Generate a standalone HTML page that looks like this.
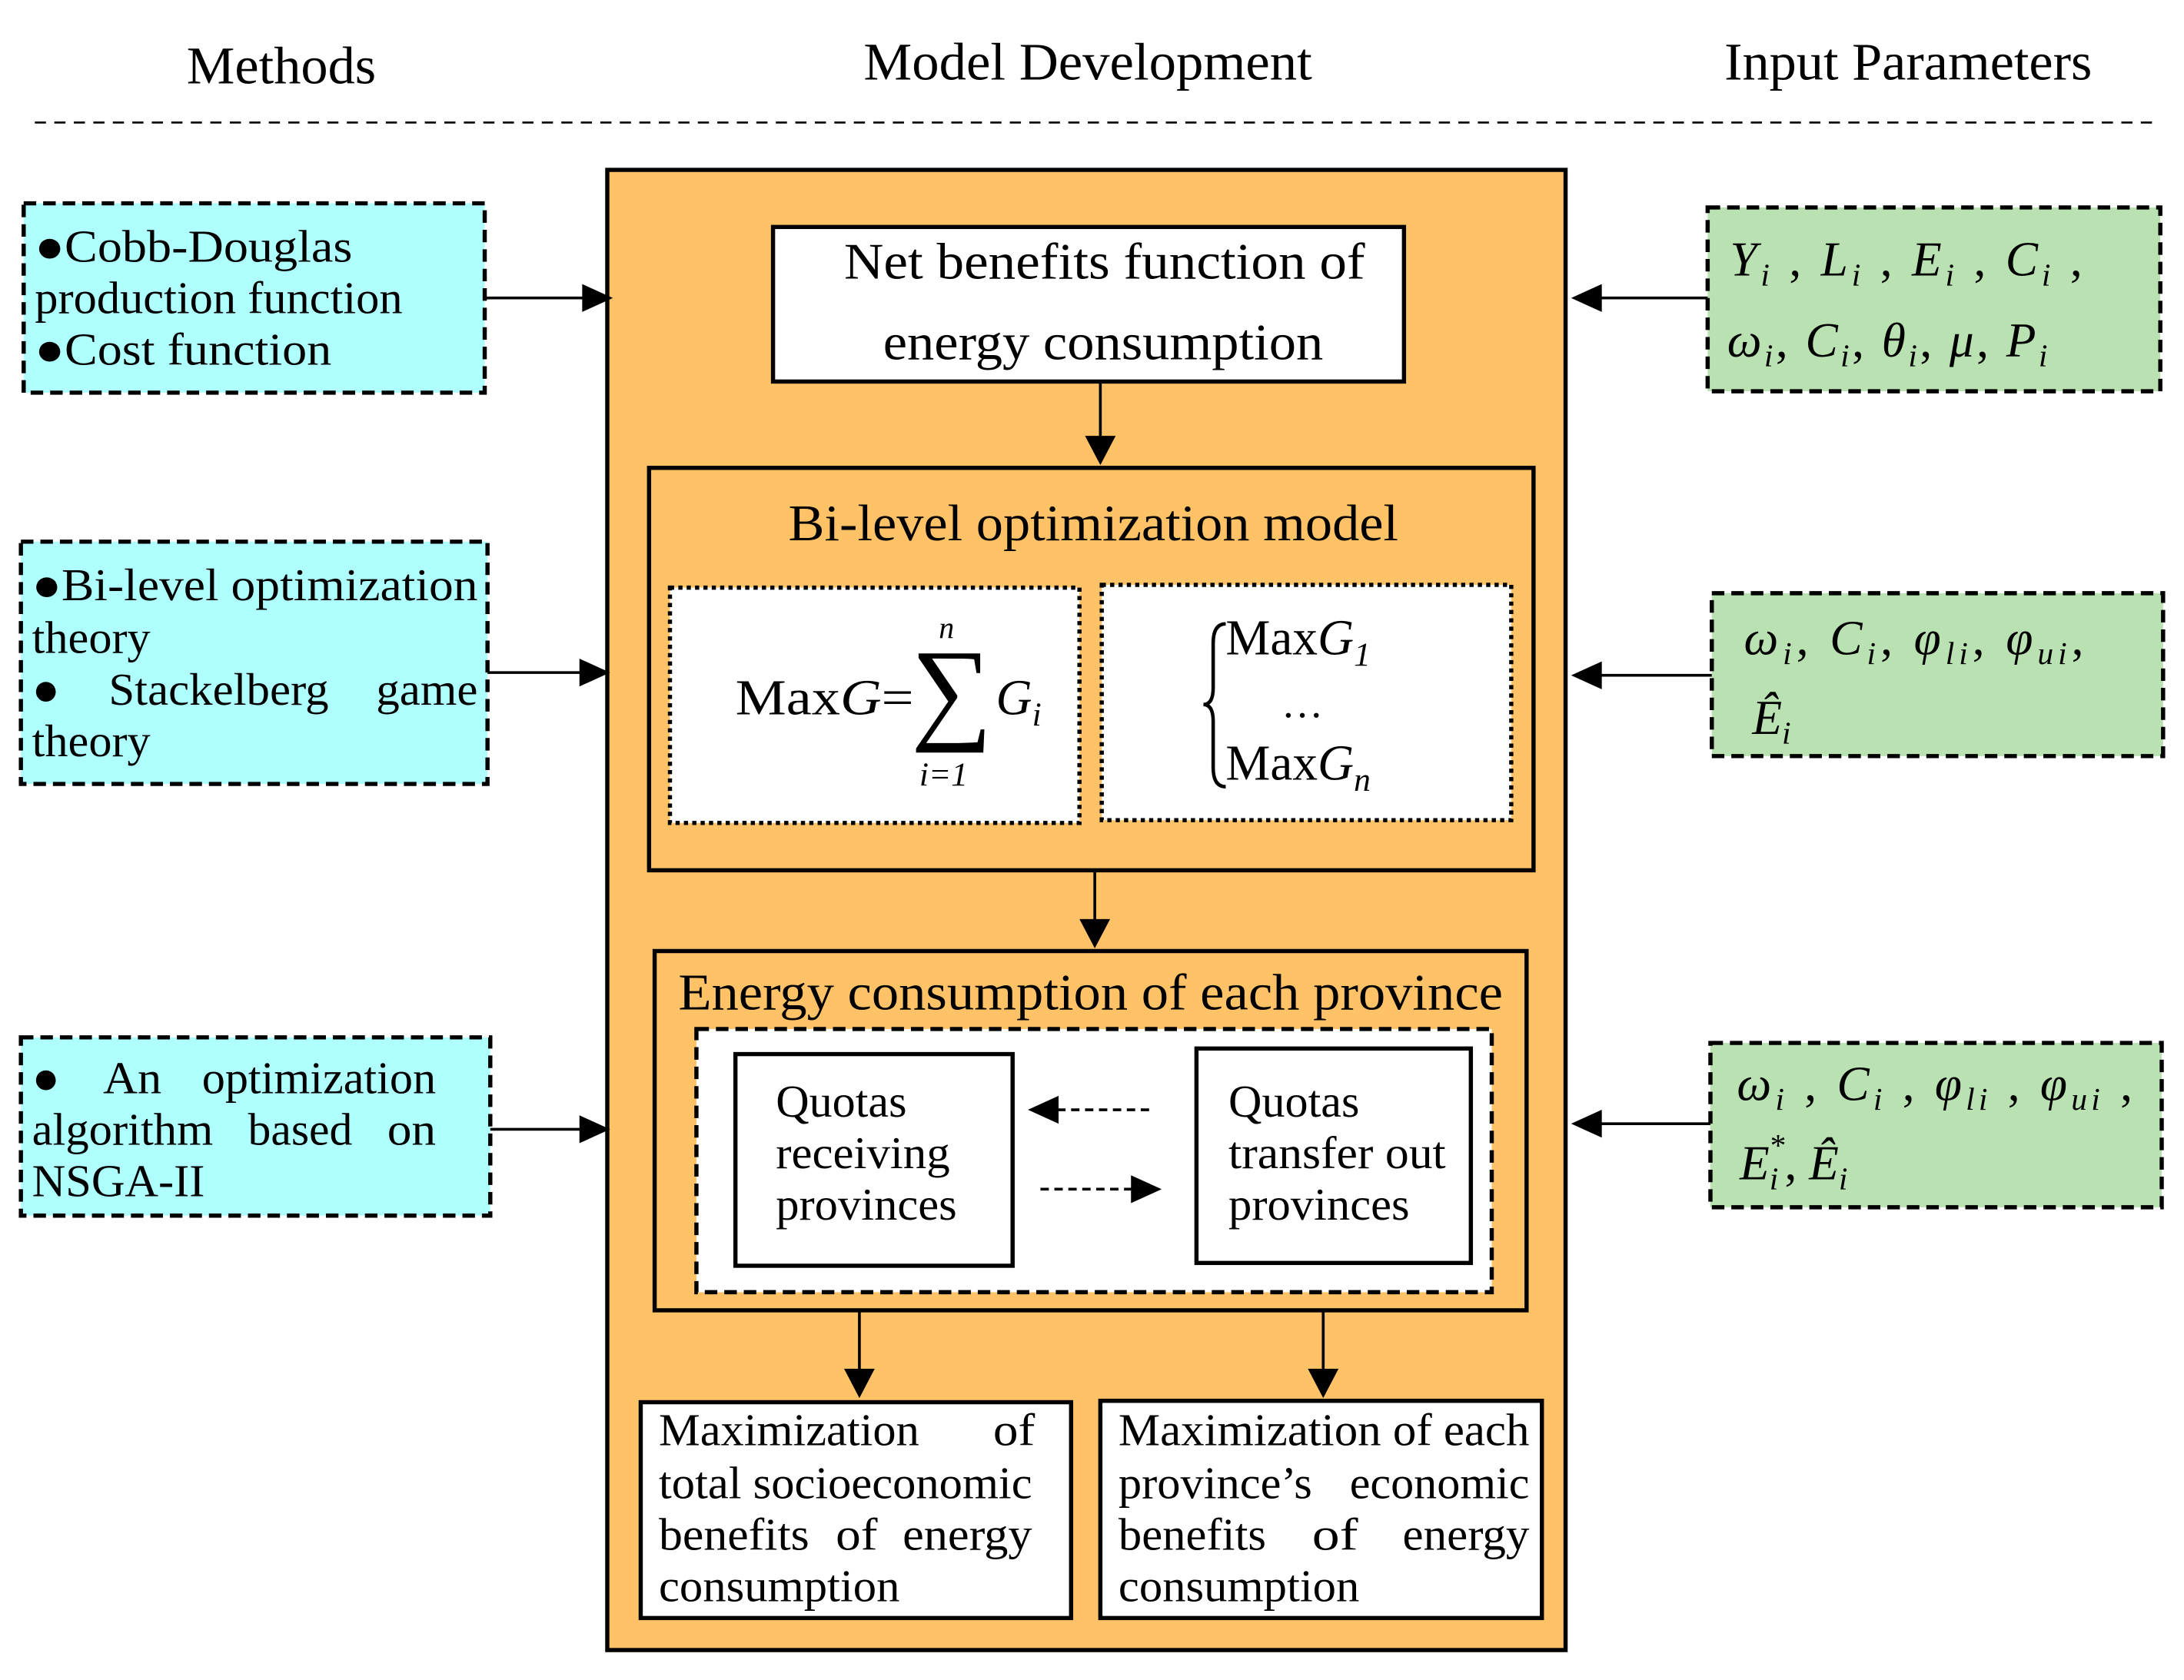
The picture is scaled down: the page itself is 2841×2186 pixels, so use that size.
<!DOCTYPE html>
<html><head><meta charset="utf-8"><style>
html,body{margin:0;padding:0;background:#fff;}
svg{display:block;}
text{font-family:"Liberation Serif",serif;fill:#000;}
.i{font-style:italic;}
</style></head><body>
<svg width="2841" height="2186" viewBox="0 0 1568 1206.5" preserveAspectRatio="none" xmlns="http://www.w3.org/2000/svg">
<!-- headers -->
<text x="134" y="60" font-size="38" textLength="136" lengthAdjust="spacingAndGlyphs">Methods</text>
<text x="620" y="57" font-size="38" textLength="322" lengthAdjust="spacingAndGlyphs">Model Development</text>
<text x="1238" y="57" font-size="38" textLength="264" lengthAdjust="spacingAndGlyphs">Input Parameters</text>
<line x1="25" y1="88" x2="1545" y2="88" stroke="#000" stroke-width="1.5" stroke-dasharray="8,6"/>

<!-- main orange -->
<rect x="436" y="122" width="688" height="1063" fill="#FFC266" stroke="#000" stroke-width="3"/>
<rect x="555" y="163" width="453" height="111" fill="#fff" stroke="#000" stroke-width="3"/>
<text x="606" y="200" font-size="37" textLength="374" lengthAdjust="spacingAndGlyphs">Net benefits function of</text>
<text x="634" y="258" font-size="37" textLength="316" lengthAdjust="spacingAndGlyphs">energy consumption</text>
<line x1="790" y1="274" x2="790" y2="315" stroke="#000" stroke-width="2"/>
<polygon points="779,313 801,313 790,334" fill="#000"/>

<rect x="466" y="336" width="635" height="289" fill="#FFC266" stroke="#000" stroke-width="3"/>
<text x="566" y="388" font-size="37" textLength="438" lengthAdjust="spacingAndGlyphs">Bi-level optimization model</text>
<rect x="481" y="422" width="294" height="169" fill="#fff" stroke="#000" stroke-width="3" stroke-dasharray="3,3"/>
<rect x="791" y="420" width="294" height="169" fill="#fff" stroke="#000" stroke-width="3" stroke-dasharray="3,3"/>
<text x="528" y="513" font-size="36" textLength="128" lengthAdjust="spacingAndGlyphs">Max<tspan class="i">G</tspan>=</text>
<text x="654" y="523" font-size="82">∑</text>
<text x="674" y="458" font-size="22" class="i">n</text>
<text x="660" y="564" font-size="24" class="i">i=1</text>
<text x="715" y="513" font-size="36" class="i">G<tspan font-size="24" dy="8">i</tspan></text>
<path d="M880,448 Q871,448 871,462 L871,494 Q871,506 864,506 Q871,506 871,518 L871,551 Q871,565 880,565" fill="none" stroke="#000" stroke-width="2.5"/>
<text x="880" y="470" font-size="36">Max<tspan class="i">G</tspan><tspan class="i" font-size="24" dy="8">1</tspan></text>
<text x="920" y="515" font-size="30">…</text>
<text x="880" y="560" font-size="36">Max<tspan class="i">G</tspan><tspan class="i" font-size="24" dy="8">n</tspan></text>

<line x1="786" y1="625" x2="786" y2="662" stroke="#000" stroke-width="2"/>
<polygon points="775,660 797,660 786,681" fill="#000"/>

<rect x="470" y="683" width="626" height="258" fill="#FFC266" stroke="#000" stroke-width="3"/>
<text x="487" y="725" font-size="37" textLength="592" lengthAdjust="spacingAndGlyphs">Energy consumption of each province</text>
<rect x="500" y="739" width="571" height="189" fill="#fff" stroke="#000" stroke-width="3" stroke-dasharray="9,5"/>
<rect x="528" y="757" width="199" height="152" fill="#fff" stroke="#000" stroke-width="3"/>
<text x="557" y="802" font-size="33" textLength="94" lengthAdjust="spacingAndGlyphs">Quotas</text>
<text x="557" y="839" font-size="33" textLength="125" lengthAdjust="spacingAndGlyphs">receiving</text>
<text x="557" y="876" font-size="33" textLength="130" lengthAdjust="spacingAndGlyphs">provinces</text>
<rect x="859" y="753" width="197" height="154" fill="#fff" stroke="#000" stroke-width="3"/>
<text x="882" y="802" font-size="33" textLength="94" lengthAdjust="spacingAndGlyphs">Quotas</text>
<text x="882" y="839" font-size="33" textLength="156" lengthAdjust="spacingAndGlyphs">transfer out</text>
<text x="882" y="876" font-size="33" textLength="130" lengthAdjust="spacingAndGlyphs">provinces</text>
<line x1="825" y1="797" x2="758" y2="797" stroke="#000" stroke-width="2" stroke-dasharray="6,4"/>
<polygon points="738,797 760,787 760,807" fill="#000"/>
<line x1="747" y1="854" x2="813" y2="854" stroke="#000" stroke-width="2" stroke-dasharray="6,4"/>
<polygon points="834,854 812,844 812,864" fill="#000"/>

<line x1="617" y1="941" x2="617" y2="985" stroke="#000" stroke-width="2"/>
<polygon points="606,983 628,983 617,1004" fill="#000"/>
<line x1="950" y1="941" x2="950" y2="985" stroke="#000" stroke-width="2"/>
<polygon points="939,983 961,983 950,1004" fill="#000"/>

<rect x="460" y="1007" width="309" height="155" fill="#fff" stroke="#000" stroke-width="3"/>
<text x="473" y="1038" font-size="33" textLength="187" lengthAdjust="spacingAndGlyphs">Maximization</text>
<text x="713" y="1038" font-size="33" textLength="30" lengthAdjust="spacingAndGlyphs">of</text>
<text x="473" y="1076" font-size="33" textLength="268" lengthAdjust="spacingAndGlyphs">total socioeconomic</text>
<text x="473" y="1113" font-size="33" textLength="108" lengthAdjust="spacingAndGlyphs">benefits</text>
<text x="600" y="1113" font-size="33" textLength="30" lengthAdjust="spacingAndGlyphs">of</text>
<text x="648" y="1113" font-size="33" textLength="93" lengthAdjust="spacingAndGlyphs">energy</text>
<text x="473" y="1150" font-size="33" textLength="173" lengthAdjust="spacingAndGlyphs">consumption</text>
<rect x="790" y="1006" width="317" height="156" fill="#fff" stroke="#000" stroke-width="3"/>
<text x="803" y="1038" font-size="33" textLength="295" lengthAdjust="spacingAndGlyphs">Maximization of each</text>
<text x="803" y="1076" font-size="33" textLength="139" lengthAdjust="spacingAndGlyphs">province’s</text>
<text x="969" y="1076" font-size="33" textLength="129" lengthAdjust="spacingAndGlyphs">economic</text>
<text x="803" y="1113" font-size="33" textLength="106" lengthAdjust="spacingAndGlyphs">benefits</text>
<text x="942" y="1113" font-size="33" textLength="33" lengthAdjust="spacingAndGlyphs">of</text>
<text x="1007" y="1113" font-size="33" textLength="91" lengthAdjust="spacingAndGlyphs">energy</text>
<text x="803" y="1150" font-size="33" textLength="173" lengthAdjust="spacingAndGlyphs">consumption</text>

<!-- left boxes -->
<rect x="17" y="146" width="331" height="136" fill="#AFFFFF" stroke="#000" stroke-width="3" stroke-dasharray="9,5"/>
<text x="25" y="188" font-size="33" textLength="228" lengthAdjust="spacingAndGlyphs">●Cobb-Douglas</text>
<text x="25" y="225" font-size="33" textLength="264" lengthAdjust="spacingAndGlyphs">production function</text>
<text x="25" y="262" font-size="33" textLength="213" lengthAdjust="spacingAndGlyphs">●Cost function</text>
<rect x="15" y="389" width="335" height="174" fill="#AFFFFF" stroke="#000" stroke-width="3" stroke-dasharray="9,5"/>
<text x="23" y="431" font-size="33" textLength="320" lengthAdjust="spacingAndGlyphs">●Bi-level optimization</text>
<text x="23" y="469" font-size="33" textLength="85" lengthAdjust="spacingAndGlyphs">theory</text>
<text x="23" y="506" font-size="33">●</text>
<text x="78" y="506" font-size="33" textLength="158" lengthAdjust="spacingAndGlyphs">Stackelberg</text>
<text x="270" y="506" font-size="33" textLength="73" lengthAdjust="spacingAndGlyphs">game</text>
<text x="23" y="543" font-size="33" textLength="85" lengthAdjust="spacingAndGlyphs">theory</text>
<rect x="15" y="745" width="337" height="128" fill="#AFFFFF" stroke="#000" stroke-width="3" stroke-dasharray="9,5"/>
<text x="23" y="785" font-size="33">●</text>
<text x="74" y="785" font-size="33" textLength="42" lengthAdjust="spacingAndGlyphs">An</text>
<text x="145" y="785" font-size="33" textLength="168" lengthAdjust="spacingAndGlyphs">optimization</text>
<text x="23" y="822" font-size="33" textLength="130" lengthAdjust="spacingAndGlyphs">algorithm</text>
<text x="178" y="822" font-size="33" textLength="75" lengthAdjust="spacingAndGlyphs">based</text>
<text x="278" y="822" font-size="33" textLength="35" lengthAdjust="spacingAndGlyphs">on</text>
<text x="23" y="859" font-size="33" textLength="124" lengthAdjust="spacingAndGlyphs">NSGA-II</text>

<line x1="348" y1="214" x2="420" y2="214" stroke="#000" stroke-width="2"/>
<polygon points="440,214 418,204 418,224" fill="#000"/>
<line x1="350" y1="483" x2="418" y2="483" stroke="#000" stroke-width="2"/>
<polygon points="438,483 416,473 416,493" fill="#000"/>
<line x1="352" y1="811" x2="418" y2="811" stroke="#000" stroke-width="2"/>
<polygon points="438,811 416,801 416,821" fill="#000"/>

<!-- right boxes -->
<rect x="1226" y="149" width="325" height="132" fill="#B9E1B2" stroke="#000" stroke-width="3" stroke-dasharray="9,5"/>
<text x="1242" y="198" font-size="35" class="i" textLength="253" lengthAdjust="spacing">Y<tspan font-size="23" dy="7">i</tspan><tspan dy="-7" font-style="normal"> , </tspan>L<tspan font-size="23" dy="7">i</tspan><tspan dy="-7" font-style="normal"> , </tspan>E<tspan font-size="23" dy="7">i</tspan><tspan dy="-7" font-style="normal"> , </tspan>C<tspan font-size="23" dy="7">i</tspan><tspan dy="-7" font-style="normal"> ,</tspan></text>
<text x="1240" y="256" font-size="35" class="i" textLength="230" lengthAdjust="spacing">ω<tspan font-size="23" dy="7">i</tspan><tspan dy="-7" font-style="normal">, </tspan>C<tspan font-size="23" dy="7">i</tspan><tspan dy="-7" font-style="normal">, </tspan>θ<tspan font-size="23" dy="7">i</tspan><tspan dy="-7" font-style="normal">, </tspan>μ<tspan font-style="normal">, </tspan>P<tspan font-size="23" dy="7">i</tspan></text>
<rect x="1229" y="426" width="324" height="117" fill="#B9E1B2" stroke="#000" stroke-width="3" stroke-dasharray="9,5"/>
<text x="1252" y="470" font-size="35" class="i" textLength="244" lengthAdjust="spacing">ω<tspan font-size="23" dy="7">i</tspan><tspan dy="-7" font-style="normal">, </tspan>C<tspan font-size="23" dy="7">i</tspan><tspan dy="-7" font-style="normal">, </tspan>φ<tspan font-size="23" dy="7">li</tspan><tspan dy="-7" font-style="normal">, </tspan>φ<tspan font-size="23" dy="7">ui</tspan><tspan dy="-7" font-style="normal">,</tspan></text>
<text x="1258" y="527" font-size="35" class="i">Ê<tspan font-size="23" dy="7">i</tspan></text>
<rect x="1228" y="749" width="324" height="118" fill="#B9E1B2" stroke="#000" stroke-width="3" stroke-dasharray="9,5"/>
<text x="1247" y="790" font-size="35" class="i" textLength="284" lengthAdjust="spacing">ω<tspan font-size="23" dy="7">i</tspan><tspan dy="-7" font-style="normal"> , </tspan>C<tspan font-size="23" dy="7">i</tspan><tspan dy="-7" font-style="normal"> , </tspan>φ<tspan font-size="23" dy="7">li</tspan><tspan dy="-7" font-style="normal"> , </tspan>φ<tspan font-size="23" dy="7">ui</tspan><tspan dy="-7" font-style="normal"> ,</tspan></text>
<text x="1249" y="847" font-size="35" class="i">E<tspan font-size="23" dy="7">i</tspan><tspan font-size="23" dx="-7" dy="-24">*</tspan><tspan dy="17" font-style="normal">, </tspan>Ê<tspan font-size="23" dy="7">i</tspan></text>

<line x1="1226" y1="214" x2="1148" y2="214" stroke="#000" stroke-width="2"/>
<polygon points="1128,214 1150,204 1150,224" fill="#000"/>
<line x1="1229" y1="485" x2="1148" y2="485" stroke="#000" stroke-width="2"/>
<polygon points="1128,485 1150,475 1150,495" fill="#000"/>
<line x1="1228" y1="807" x2="1148" y2="807" stroke="#000" stroke-width="2"/>
<polygon points="1128,807 1150,797 1150,817" fill="#000"/>
</svg>
</body></html>
